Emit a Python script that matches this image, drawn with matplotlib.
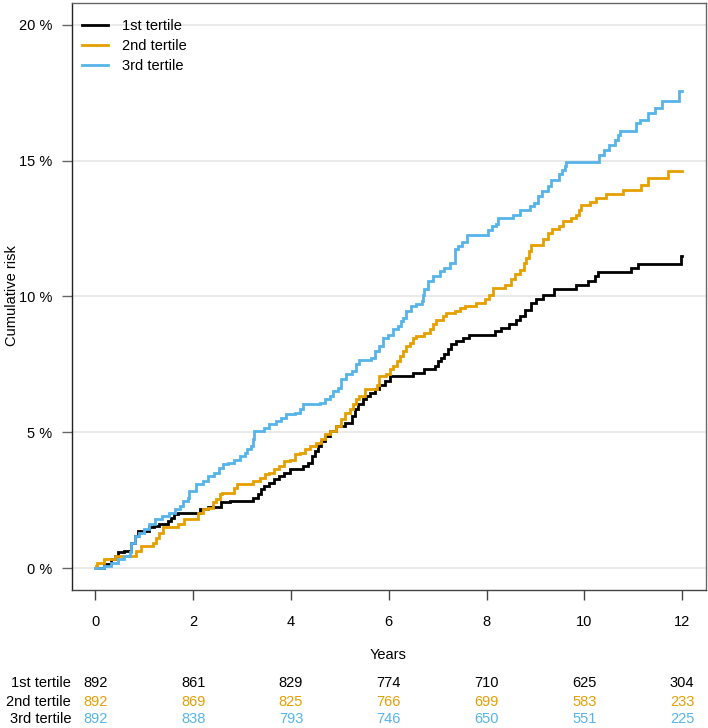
import matplotlib
matplotlib.use("Agg")
import matplotlib.pyplot as plt
from matplotlib.transforms import blended_transform_factory

plt.rcParams['font.family'] = ['Liberation Sans', 'DejaVu Sans']
plt.rcParams['font.size'] = 10.5

W, H = 708, 728

GROUPS = ['1st tertile', '2nd tertile', '3rd tertile']
COLORS = ['#000000', '#E69F00', '#56B4E9']

# step curves: (years, cumulative risk in %)
T1 = [0, 0.18, 0.32, 0.39, 0.46, 0.59, 0.73, 0.80, 0.87, 1.10, 1.20, 1.31, 1.48, 1.55,
      1.61, 1.68, 2.13, 2.30, 2.57, 2.75, 3.22, 3.32, 3.38, 3.45, 3.56, 3.66, 3.76, 3.86,
      3.97, 4.25, 4.35, 4.42, 4.49, 4.55, 4.62, 4.69, 4.79, 4.93, 5.10, 5.24, 5.30, 5.37,
      5.47, 5.54, 5.61, 5.71, 5.81, 5.92, 6.02, 6.50, 6.73, 6.94, 7.00, 7.07, 7.14, 7.21,
      7.28, 7.38, 7.52, 7.65, 8.17, 8.30, 8.47, 8.61, 8.68, 8.78, 8.92, 9.02, 9.15, 9.39,
      9.84, 10.07, 10.21, 10.28, 10.96, 11.10, 11.98]
R1 = [0, 0.15, 0.33, 0.45, 0.58, 0.64, 0.94, 1.19, 1.37, 1.50, 1.56, 1.62, 1.74, 1.86,
      1.99, 2.05, 2.17, 2.27, 2.42, 2.48, 2.60, 2.72, 2.90, 3.03, 3.15, 3.27, 3.39, 3.52,
      3.64, 3.76, 3.88, 4.13, 4.31, 4.50, 4.68, 4.86, 5.05, 5.23, 5.36, 5.60, 5.85, 6.03,
      6.21, 6.33, 6.46, 6.58, 6.76, 6.89, 7.07, 7.19, 7.32, 7.44, 7.62, 7.74, 7.87, 8.05,
      8.24, 8.36, 8.48, 8.60, 8.73, 8.85, 8.97, 9.15, 9.28, 9.52, 9.77, 9.89, 10.04, 10.26,
      10.44, 10.56, 10.75, 10.90, 11.05, 11.21, 11.50]

T2 = [0, 0.02, 0.04, 0.18, 0.39, 0.83, 0.93, 1.17, 1.24, 1.31, 1.38, 1.68, 1.82, 2.09,
      2.20, 2.30, 2.40, 2.47, 2.54, 2.58, 2.84, 2.90, 3.22, 3.36, 3.46, 3.56, 3.66, 3.76,
      3.86, 3.97, 4.08, 4.18, 4.28, 4.38, 4.52, 4.62, 4.69, 4.79, 4.93, 5.03, 5.10, 5.20,
      5.27, 5.34, 5.40, 5.51, 5.75, 5.81, 5.95, 6.02, 6.09, 6.16, 6.22, 6.29, 6.36, 6.43,
      6.50, 6.56, 6.73, 6.84, 6.90, 6.97, 7.10, 7.18, 7.35, 7.45, 7.55, 7.79, 7.96, 8.05,
      8.13, 8.37, 8.51, 8.58, 8.68, 8.76, 8.80, 8.87, 8.92, 9.15, 9.26, 9.33, 9.49, 9.56,
      9.73, 9.84, 9.90, 9.94, 10.11, 10.25, 10.45, 10.79, 11.17, 11.30, 11.71]
R2 = [0, 0.08, 0.20, 0.33, 0.45, 0.64, 0.82, 0.94, 1.13, 1.31, 1.50, 1.62, 1.80, 2.05,
      2.17, 2.23, 2.42, 2.54, 2.72, 2.78, 2.97, 3.09, 3.21, 3.33, 3.46, 3.52, 3.64, 3.76,
      3.94, 4.00, 4.19, 4.25, 4.38, 4.50, 4.62, 4.74, 4.93, 5.05, 5.23, 5.48, 5.72, 5.85,
      6.03, 6.21, 6.33, 6.58, 6.76, 7.07, 7.13, 7.32, 7.44, 7.62, 7.81, 7.99, 8.17, 8.30,
      8.48, 8.54, 8.67, 8.79, 8.97, 9.15, 9.28, 9.40, 9.46, 9.58, 9.64, 9.77, 9.92, 10.05,
      10.32, 10.44, 10.63, 10.84, 10.99, 11.23, 11.42, 11.67, 11.91, 12.10, 12.34, 12.50, 12.59, 12.78,
      12.89, 13.01, 13.20, 13.35, 13.48, 13.63, 13.79, 13.93, 14.12, 14.36, 14.60]

T3 = [0, 0.18, 0.32, 0.46, 0.59, 0.70, 0.73, 0.80, 0.90, 1.00, 1.10, 1.21, 1.36, 1.51,
      1.62, 1.72, 1.80, 1.89, 1.92, 2.06, 2.19, 2.31, 2.43, 2.52, 2.60, 2.72, 2.84, 2.95,
      3.05, 3.10, 3.18, 3.22, 3.25, 3.45, 3.55, 3.70, 3.80, 3.90, 4.08, 4.18, 4.25, 4.59,
      4.70, 4.79, 4.86, 4.96, 5.03, 5.13, 5.24, 5.34, 5.40, 5.64, 5.71, 5.81, 5.88, 5.98,
      6.09, 6.19, 6.25, 6.29, 6.36, 6.46, 6.55, 6.67, 6.70, 6.73, 6.80, 6.90, 7.04, 7.14,
      7.25, 7.35, 7.42, 7.50, 7.60, 8.03, 8.12, 8.20, 8.23, 8.54, 8.68, 8.88, 8.98, 9.05,
      9.14, 9.26, 9.31, 9.49, 9.55, 9.60, 9.63, 10.30, 10.41, 10.50, 10.62, 10.68, 10.74,
      11.06, 11.15, 11.30, 11.44, 11.59, 11.93]
R3 = [0, 0.08, 0.21, 0.33, 0.45, 0.58, 0.94, 1.19, 1.31, 1.43, 1.62, 1.80, 1.92, 2.05,
      2.17, 2.29, 2.48, 2.60, 2.84, 3.09, 3.21, 3.39, 3.52, 3.70, 3.82, 3.88, 4.00, 4.13,
      4.25, 4.38, 4.50, 4.74, 5.05, 5.17, 5.29, 5.42, 5.54, 5.66, 5.72, 5.85, 6.03, 6.09,
      6.21, 6.33, 6.52, 6.64, 6.95, 7.13, 7.25, 7.50, 7.68, 7.74, 7.99, 8.17, 8.48, 8.60,
      8.79, 8.91, 9.10, 9.22, 9.46, 9.64, 9.74, 9.83, 10.07, 10.26, 10.56, 10.75, 10.93, 11.05,
      11.24, 11.73, 11.85, 12.00, 12.25, 12.46, 12.60, 12.65, 12.90, 13.01, 13.20, 13.32, 13.44, 13.69,
      13.87, 14.05, 14.30, 14.49, 14.67, 14.79, 14.94, 15.22, 15.40, 15.59, 15.77, 15.96, 16.08,
      16.39, 16.50, 16.75, 16.94, 17.20, 17.55]

T_END = 12.0

RISK_TIMES = [0, 2, 4, 6, 8, 10, 12]
AT_RISK = [
    [892, 861, 829, 774, 710, 625, 304],
    [892, 869, 825, 766, 699, 583, 233],
    [892, 838, 793, 746, 650, 551, 225],
]

Y_TICKS = [0, 5, 10, 15, 20]


def main():
    fig = plt.figure(figsize=(W / 100, H / 100), dpi=100)
    ax = fig.add_axes([72 / W, 1 - 590 / H, (705.5 - 72) / W, (590 - 3) / H])

    curves = [(T1, R1), (T2, R2), (T3, R3)]
    for (t, r), col, lab in zip(curves, COLORS, GROUPS):
        ax.step(list(t) + [T_END], [v / 100 for v in r] + [r[-1] / 100], where='post',
                color=col, lw=2.0, label=lab, solid_joinstyle='miter')

    ax.set_xlim(-0.48, 12.48)
    ax.set_ylim(-0.008, 0.208)
    ax.set_xticks(RISK_TIMES)
    ax.set_yticks([v / 100 for v in Y_TICKS])
    ax.set_yticklabels([f'{v} %' for v in Y_TICKS])
    for v in Y_TICKS:
        ax.axhline(v / 100, color='#e6e6e6', lw=1.2, zorder=0)

    for s in ax.spines.values():
        s.set_color('#666666')
        s.set_linewidth(1.0)
    ax.spines['left'].set_color('#222222')
    ax.spines['bottom'].set_color('#444444')
    ax.tick_params(axis='x', length=7, width=1, color='#444444', pad=11)
    ax.tick_params(axis='y', length=7, width=1, color='#666666', pad=7)

    ax.legend(loc='upper left', bbox_to_anchor=(0.0, 0.99), frameon=False,
              handlelength=1.8, handletextpad=0.9, labelspacing=0.42,
              borderaxespad=0.3)

    fig.text(12 / W, 1 - 296 / H, 'Cumulative risk', rotation=90,
             ha='center', va='center')
    fig.text(388.5 / W, 1 - 655 / H, 'Years', ha='center', va='center')

    trans = blended_transform_factory(ax.transData, fig.transFigure)
    row_y = [683, 702, 719]
    for lab, col, vals, y in zip(GROUPS, COLORS, AT_RISK, row_y):
        fig.text(71 / W, 1 - y / H, lab, ha='right', va='center')
        for tx, n in zip(RISK_TIMES, vals):
            ax.text(tx, 1 - y / H, str(n), transform=trans, ha='center', va='center',
                    color=col, clip_on=False)

    fig.savefig('out.png', dpi=100)


if __name__ == '__main__':
    main()
